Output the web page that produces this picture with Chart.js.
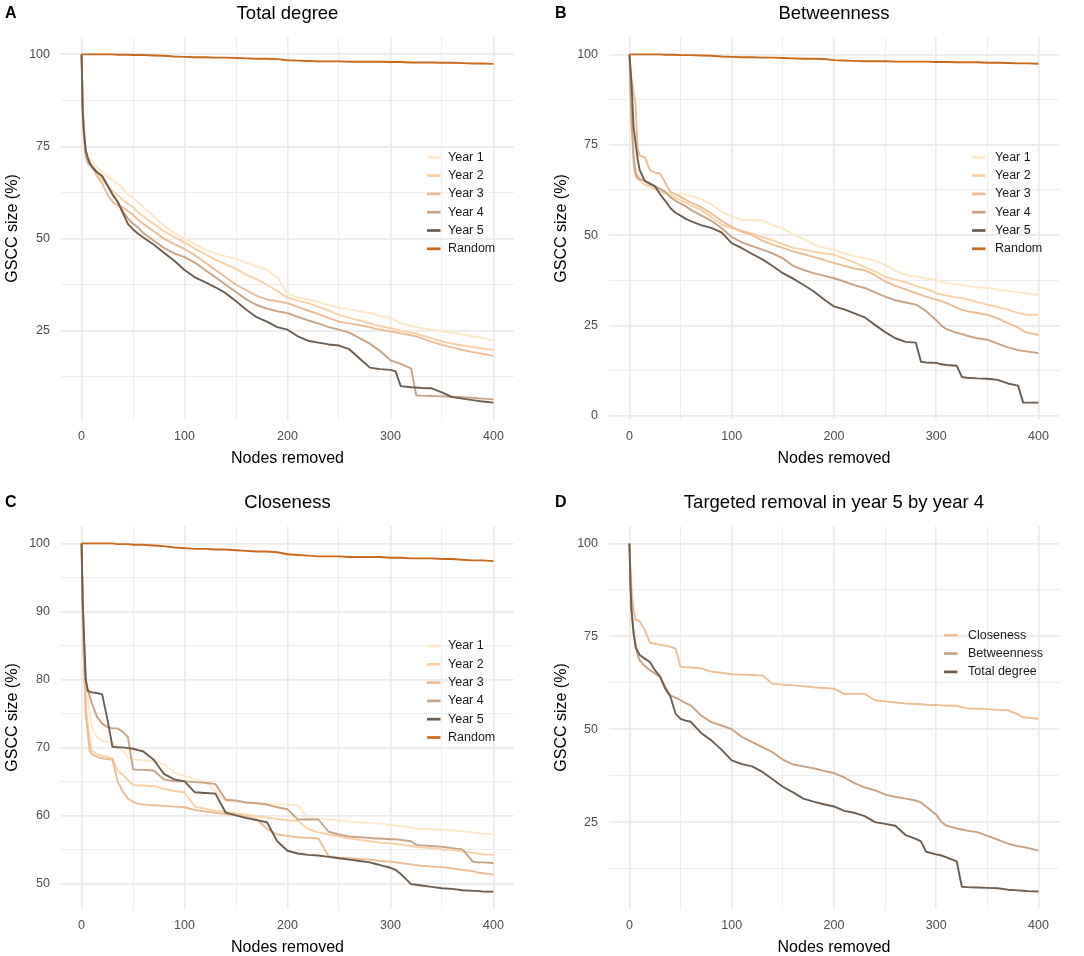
<!DOCTYPE html>
<html>
<head>
<meta charset="utf-8">
<title>GSCC size under node removal</title>
<script src="https://cdn.jsdelivr.net/npm/chart.js@4.4.1/dist/chart.umd.min.js"></script>
<style>
    html, body { margin: 0; padding: 0; background: #fff; overflow: hidden; }
    .panel { position: absolute; width: 542px; height: 467px; }
</style>
</head>
<body>
<canvas id="panelA" class="panel" style="left:0;top:0" width="542" height="467"></canvas>
<canvas id="panelB" class="panel" style="left:542px;top:0" width="542" height="467"></canvas>
<canvas id="panelC" class="panel" style="left:0;top:489px" width="542" height="467"></canvas>
<canvas id="panelD" class="panel" style="left:542px;top:489px" width="542" height="467"></canvas>
<script>
// x positions (nodes removed) shared by every series
const nodesRemoved = [0, 1, 2, 4, 6, 8, 10,
    15, 20, 25, 30, 35, 40, 45, 50, 55, 60,
    70, 80, 90, 100, 110, 120, 130, 140, 150, 160, 170,
    180, 190, 200, 210, 220, 230, 240, 250, 260, 270, 280,
    285, 290, 300, 305, 310, 320, 325, 330,
    340, 350, 360, 370, 380, 385, 390, 400];

const xMajorTicks = [0, 100, 200, 300, 400];
const xMinorTicks = [50, 150, 250, 350];
const yTicksQuarter = [25, 50, 75, 100];
const yTicksQuarterZero = [0, 25, 50, 75, 100];
const yMinorQuarter = [12.5, 37.5, 62.5, 87.5];
const yTicksCloseness = [50, 60, 70, 80, 90, 100];
const yMinorCloseness = [55, 65, 75, 85, 95];

const yearLabels = ['Year 1', 'Year 2', 'Year 3', 'Year 4', 'Year 5', 'Random'];
const strategyLabels = ['Closeness', 'Betweenness', 'Total degree'];

// Random removal (panels A-C)
const randomRemoval = [100, 100, 100, 100, 100, 100, 100,
    100, 100, 100, 100, 99.9, 99.9, 99.9, 99.8, 99.8, 99.8,
    99.7, 99.6, 99.4, 99.3, 99.2, 99.2, 99.1, 99.1, 99, 98.9, 98.8,
    98.8, 98.7, 98.4, 98.3, 98.2, 98.1, 98.1, 98.1, 98, 98, 98,
    98, 98, 97.9, 97.9, 97.9, 97.8, 97.8, 97.8,
    97.8, 97.7, 97.7, 97.6, 97.5, 97.5, 97.5, 97.4];

// A - Total degree
const degreeYear1 = [100, 88, 80, 74, 72, 71.5, 71,
    69.5, 68, 67, 66, 65, 63.5, 62, 61, 59.8, 58.5,
    56, 53.5, 51.5, 50, 48.5, 47, 46, 45.2, 44.5, 43.5, 42.5,
    41.5, 39.5, 35, 34, 33.5, 32.8, 32, 31.3, 30.8, 30.3, 29.8,
    29.4, 29, 28.4, 27.8, 27, 26.3, 26, 25.7,
    25.3, 24.8, 24.5, 24, 23.5, 23.3, 23, 22.4];
const degreeYear2 = [100, 87, 80, 73, 71, 70.5, 70,
    68, 66, 64.5, 63, 61.8, 60.5, 59.5, 58.5, 57.2, 56,
    54, 52, 50.5, 49, 47.3, 45.8, 44.3, 43, 41.8, 40.2, 39,
    37.5, 35.8, 34, 33.2, 32.5, 31.5, 30.5, 29.3, 28.5, 27.8, 27,
    26.6, 26.3, 25.7, 25.4, 25, 24.5, 24.2, 23.8,
    23, 22.1, 21.5, 21, 20.6, 20.4, 20.2, 19.8];
const degreeYear3 = [100, 86, 79, 72, 70.5, 70, 69.5,
    67, 65, 62, 60, 59, 58.5, 57.5, 56.5, 55, 54,
    52, 50, 48.5, 47.2, 45.5, 43.5, 41.5, 39.5, 37.5, 36, 34.5,
    33.5, 33, 32.5, 31.5, 30.5, 29.5, 28.5, 27.5, 27, 26.5, 26,
    25.6, 25.3, 24.8, 24.6, 24.3, 23.8, 23.5, 23,
    22, 21.2, 20.5, 19.8, 19.2, 19, 18.7, 18.2];
const degreeYear4 = [100, 86, 79, 73, 71, 70, 69.5,
    68, 67, 64.5, 62, 60, 57.5, 55.5, 54, 53, 51.5,
    49.5, 47.5, 46, 45, 43.5, 41.5, 39.5, 37.5, 35.5, 33.5, 32,
    31, 30.3, 29.8, 28.8, 27.8, 27, 26, 25.3, 24.5, 23, 21.5,
    20.5, 19.5, 17, 16.5, 16, 14.8, 7.5, 7.4,
    7.3, 7.2, 7.1, 7, 6.8, 6.7, 6.6, 6.4];
const degreeYear5 = [100, 85, 80, 74, 72, 70.5, 69.5,
    68, 67, 64.5, 62, 60, 57, 54, 52.5, 51.3, 50.3,
    48.4, 46.2, 44, 41.5, 39.5, 38.2, 36.8, 35.2, 33, 30.7, 28.7,
    27.5, 26, 25.3, 23.5, 22.3, 21.8, 21.3, 21, 20, 17.5, 15,
    14.8, 14.6, 14.4, 14, 10, 9.7, 9.6, 9.5,
    9.4, 8.3, 7, 6.6, 6.2, 6, 5.8, 5.5];

// B - Betweenness
const betweenYear1 = [100, 90, 82, 72, 68, 67, 66.5,
    65, 63.5, 62.5, 62, 61.8, 61.6, 61.5, 61.4, 61.2, 60.8,
    60, 58.5, 56.5, 55.1, 54.3, 54.2, 54, 52.8, 51.8, 50.3, 49,
    47.5, 46.5, 46, 45, 44.2, 43.6, 43, 41.8, 40.3, 39, 38.6,
    38.3, 38, 37.7, 37.2, 36.8, 36.4, 36.3, 36,
    35.6, 35.4, 35, 34.6, 34.2, 34, 33.8, 33.5];
const betweenYear2 = [100, 88, 80, 70, 66, 65.5, 65,
    64, 63.4, 62.8, 62.2, 61.6, 61, 60.3, 59.7, 59, 58.2,
    57, 55, 53, 51.9, 51.2, 50.5, 49.5, 48.6, 47.5, 46.5, 46,
    45.5, 45, 44.6, 43.5, 42.5, 41.2, 40, 38.5, 37.7, 37, 36,
    35.5, 35.2, 34, 33.6, 33.3, 32.8, 32.6, 32.3,
    31.5, 30.8, 30.2, 29.4, 28.5, 28.2, 28, 28];
const betweenYear3 = [100, 96, 93, 90, 86, 74, 72,
    71.5, 68, 67.3, 67, 64.5, 62, 61.2, 60.6, 59.8, 59,
    57.8, 56, 54, 52.3, 51, 50, 48.5, 47.4, 46.5, 45.5, 44.8,
    44, 43.2, 42.3, 41.5, 40.8, 40.3, 39, 37.2, 36, 35, 34,
    33.5, 33, 32.2, 31.8, 31.2, 30, 29.4, 29,
    28.5, 28, 27, 25.7, 24.5, 23.5, 23, 22.4];
const betweenYear4 = [100, 90, 82, 72, 67, 66, 65.5,
    65, 64.4, 63.5, 62.8, 62, 60.5, 59.5, 58.8, 58, 57,
    55.5, 54, 52, 49.5, 48, 47, 46, 45, 43.6, 41.5, 40.4,
    39.5, 38.8, 38.1, 37.2, 36.2, 35.4, 34.2, 33, 32, 31.4, 30.8,
    30, 29, 26.5, 25, 24, 23, 22.7, 22.2,
    21.5, 21.1, 20, 19, 18.2, 18, 17.8, 17.4];
const betweenYear5 = [100, 96, 92, 80, 75.5, 71, 68,
    65, 64.2, 63.5, 61.3, 59.5, 57.5, 56.2, 55.4, 54.5, 53.9,
    52.8, 52, 50.8, 47.8, 46.4, 44.8, 43.3, 41.5, 39.5, 38, 36.3,
    34.5, 32.3, 30.3, 29.5, 28.4, 27.3, 25.2, 23.2, 21.5, 20.5, 20.3,
    15, 14.8, 14.7, 14.3, 14.1, 13.9, 10.8, 10.6,
    10.4, 10.3, 10, 9, 8.4, 3.7, 3.7, 3.7];

// C - Closeness
const closeYear1 = [100, 92, 87, 80, 77, 75, 73,
    71.5, 71, 70.8, 70.6, 70.2, 69.5, 68.5, 68.2, 68.2, 68.1,
    68, 67.5, 66.3, 65.8, 65.3, 65, 63.5, 62.2, 62, 61.9, 61.8,
    61.7, 61.6, 61.6, 61.5, 59.6, 59.5, 59.4, 59.3, 59.1, 59, 58.9,
    58.8, 58.8, 58.6, 58.5, 58.4, 58.2, 58.1, 58,
    58, 57.9, 57.8, 57.7, 57.5, 57.4, 57.3, 57.2];
const closeYear2 = [100, 90, 84, 76, 73.5, 71, 69.5,
    69, 68.8, 68.6, 68.4, 66.5, 66, 65.2, 64.5, 64.4, 64.4,
    64.3, 63.9, 63.6, 63.4, 61.3, 61, 60.7, 60.5, 60.3, 60.1, 59.9,
    59.7, 59.5, 59.3, 59.2, 58, 57.5, 57.2, 56.9, 56.6, 56.4, 56.2,
    56.1, 56, 55.9, 55.8, 55.7, 55.5, 55.4, 55.3,
    55.2, 55, 54.9, 54.7, 54.5, 54.4, 54.3, 54.2];
const closeYear3 = [100, 90, 84, 75, 72, 69.5, 69,
    68.6, 68.4, 68.3, 68.2, 65, 63.5, 62.5, 62, 61.7, 61.6,
    61.5, 61.4, 61.3, 61.2, 60.8, 60.6, 60.4, 60.2, 60, 59.8, 59.5,
    58, 57.2, 57, 56.8, 56.7, 56.6, 54, 53.8, 53.7, 53.6, 53.5,
    53.4, 53.3, 53.2, 53.1, 53, 52.8, 52.7, 52.6,
    52.5, 52.4, 52.2, 52, 51.8, 51.6, 51.5, 51.3];
const closeYear4 = [100, 92, 87, 80, 78.5, 77.5, 76.5,
    74.5, 73.5, 73, 72.8, 72.8, 72.3, 71.5, 66.8, 66.7, 66.7,
    66.6, 65.3, 65, 65, 64.9, 64.8, 64.6, 62.3, 62.2, 61.9, 61.8,
    61.6, 61.2, 60.9, 59.4, 59.4, 59.4, 57.6, 57.2, 56.9, 56.8, 56.7,
    56.6, 56.6, 56.5, 56.5, 56.4, 56.2, 55.7, 55.6,
    55.5, 55.4, 55.2, 55, 53.2, 53.1, 53.1, 53];
const closeYear5 = [100, 92, 87.7, 80, 78.3, 78.2, 78.1,
    78, 77.8, 74.2, 70.1, 70, 70, 69.9, 69.8, 69.6, 69.4,
    68.2, 66.1, 65.3, 65, 63.4, 63.3, 63.2, 60.4, 60, 59.6, 59.3,
    59, 56.2, 54.8, 54.4, 54.2, 54.1, 53.9, 53.7, 53.5, 53.3, 53.1,
    52.9, 52.7, 52.3, 52, 51.4, 49.9, 49.8, 49.7,
    49.5, 49.3, 49.2, 49, 48.9, 48.9, 48.8, 48.8];

// D - Targeted removal in year 5 by year 4
const targetCloseness = [100, 93, 88, 82, 79.4, 79.4, 79,
    76.7, 73.3, 73, 72.7, 72.5, 72.2, 71.7, 66.8, 66.7, 66.6,
    66.4, 65.5, 65.2, 64.8, 64.7, 64.6, 64.5, 62.2, 62, 61.8, 61.6,
    61.3, 61.1, 60.9, 59.5, 59.5, 59.5, 57.8, 57.5, 57.2, 56.9, 56.8,
    56.7, 56.6, 56.5, 56.4, 56.4, 56.3, 55.9, 55.6,
    55.5, 55.4, 55.2, 55.1, 54, 53.2, 53.1, 52.8];
const targetBetweenness = [100, 90, 82, 76, 73, 70, 68.5,
    67, 65.9, 65, 64.1, 61.4, 59.1, 58.5, 57.8, 57, 56.4,
    53.7, 51.9, 51, 50, 47.9, 46.5, 45.2, 43.8, 41.8, 40.5, 40,
    39.5, 38.8, 38.2, 37, 35.5, 34.3, 33.6, 32.4, 31.8, 31.3, 30.8,
    30.3, 29.2, 27, 25, 24, 23.3, 23, 22.7,
    22.3, 21.3, 20.3, 19.2, 18.5, 18.3, 18, 17.3];
const targetDegree = [100, 88, 82, 76, 72, 71, 70,
    69, 68.1, 65.9, 64.1, 60.9, 58.8, 54.2, 52.8, 52.3, 52,
    49, 47, 44.5, 41.6, 40.6, 40, 38.5, 36.5, 34.5, 33, 31.3,
    30.5, 29.8, 29.2, 28, 27.5, 26.6, 25, 24.5, 24, 21.5, 20.5,
    19.8, 17, 16.3, 16, 15.5, 14.4, 7.6, 7.5,
    7.4, 7.3, 7.2, 6.8, 6.6, 6.5, 6.4, 6.3];

const yearColors = ['#FDE8C9', '#F8D1A7', '#EBBC95', '#C7A487', '#6D5D4F', '#C8691C'];
const strategyColors = ['#EDBE94', '#C7A386', '#6D5D4F'];

const FONT_FAMILY = '"Liberation Sans", Arial, sans-serif';

// Panel letter + centred title
const panelHeading = {
    id: 'panelHeading',
    afterDraw(chart, args, opts) {
        const { ctx, chartArea } = chart;
        ctx.save();
        ctx.fillStyle = '#000';
        ctx.textBaseline = 'middle';
        ctx.textAlign = 'left';
        ctx.font = 'bold 16px ' + FONT_FAMILY;
        ctx.fillText(opts.letter, opts.letterX, 14);
        ctx.textAlign = 'center';
        ctx.font = '18.5px ' + FONT_FAMILY;
        ctx.fillText(opts.title, (chartArea.left + chartArea.right) / 2, 14);
        ctx.restore();
    }
};

// ggplot-like legend drawn inside the plot panel
const insideLegend = {
    id: 'insideLegend',
    afterDraw(chart, args, opts) {
        const { ctx } = chart;
        ctx.save();
        ctx.font = '12.5px ' + FONT_FAMILY;
        ctx.textBaseline = 'middle';
        ctx.textAlign = 'left';
        chart.data.datasets.forEach((ds, i) => {
            const y = opts.top + i * 18.3;
            ctx.strokeStyle = ds.borderColor;
            ctx.lineWidth = 2.7;
            ctx.beginPath();
            ctx.moveTo(opts.left, y);
            ctx.lineTo(opts.left + 13.5, y);
            ctx.stroke();
            ctx.fillStyle = '#1a1a1a';
            ctx.fillText(ds.label, opts.textLeft, y);
        });
        ctx.restore();
    }
};

function makeTicks(major, minor) {
    return major.map(v => ({ value: v }))
        .concat(minor.map(v => ({ value: v, minor: true })))
        .sort((a, b) => a.value - b.value);
}

function buildPanel(canvasId, panel) {
    const gridWidth = c => (c.tick && c.tick.minor ? 0.9 : 1.7);
    const tickFont = { family: FONT_FAMILY, size: 12.5 };
    const axisTitleFont = { family: FONT_FAMILY, size: 16, lineHeight: 1 };

    const datasets = panel.series.map((values, i) => {
        if (values.length !== nodesRemoved.length) {
            throw new Error(canvasId + ' series ' + i + ' has ' + values.length + ' values');
        }
        return {
            label: panel.labels[i],
            data: nodesRemoved.map((x, k) => ({ x: x, y: values[k] })),
            borderColor: panel.colors[i],
            borderWidth: 1.9,
            borderJoinStyle: 'round',
            pointRadius: 0,
            tension: 0,
            fill: false,
            order: panel.series.length - i
        };
    });

    return new Chart(document.getElementById(canvasId), {
        type: 'line',
        data: { datasets: datasets },
        plugins: [panelHeading, insideLegend],
        options: {
            responsive: false,
            animation: false,
            events: [],
            layout: { padding: { top: 37, right: panel.rightPad, bottom: 0, left: 0 } },
            plugins: {
                legend: { display: false },
                tooltip: { enabled: false },
                panelHeading: { letter: panel.letter, letterX: panel.letterX, title: panel.title },
                insideLegend: panel.legend
            },
            scales: {
                x: {
                    type: 'linear',
                    min: -20,
                    max: 420,
                    afterBuildTicks: axis => { axis.ticks = makeTicks(xMajorTicks, xMinorTicks); },
                    afterFit: axis => { axis.height = 47; },
                    border: { display: false },
                    grid: { color: '#EBEBEB', lineWidth: gridWidth, drawTicks: false },
                    ticks: {
                        autoSkip: false,
                        maxRotation: 0,
                        padding: 9,
                        color: '#4D4D4D',
                        font: tickFont,
                        callback: v => (xMajorTicks.includes(v) ? String(v) : '')
                    },
                    title: { display: true, text: 'Nodes removed', color: '#000', font: axisTitleFont, padding: 0 }
                },
                y: {
                    type: 'linear',
                    min: panel.yMin,
                    max: panel.yMax,
                    afterBuildTicks: axis => { axis.ticks = makeTicks(panel.yMajor, panel.yMinor); },
                    afterFit: axis => { axis.width = panel.yWidth; },
                    border: { display: false },
                    grid: { color: '#EBEBEB', lineWidth: gridWidth, drawTicks: false },
                    ticks: {
                        autoSkip: false,
                        padding: 11,
                        color: '#4D4D4D',
                        font: tickFont,
                        callback: v => (panel.yMajor.includes(v) ? String(v) : '')
                    },
                    title: {
                        display: true,
                        text: 'GSCC size (%)',
                        color: '#000',
                        font: axisTitleFont,
                        padding: { top: panel.yTitlePad, bottom: 0 }
                    }
                }
            }
        }
    });
}

document.addEventListener('DOMContentLoaded', () => {
    buildPanel('panelA', {
        letter: 'A', letterX: 5, title: 'Total degree',
        series: [degreeYear1, degreeYear2, degreeYear3, degreeYear4, degreeYear5, randomRemoval],
        labels: yearLabels, colors: yearColors,
        yMin: 0.8, yMax: 104.7, yMajor: yTicksQuarter, yMinor: yMinorQuarter,
        yWidth: 61, yTitlePad: 5, rightPad: 28,
        legend: { left: 427, textLeft: 448, top: 157.3 }
    });

    buildPanel('panelB', {
        letter: 'B', letterX: 13, title: 'Betweenness',
        series: [betweenYear1, betweenYear2, betweenYear3, betweenYear4, betweenYear5, randomRemoval],
        labels: yearLabels, colors: yearColors,
        yMin: -1.1, yMax: 104.8, yMajor: yTicksQuarterZero, yMinor: yMinorQuarter,
        yWidth: 67, yTitlePad: 11.5, rightPad: 25,
        legend: { left: 430, textLeft: 453, top: 157.3 }
    });

    buildPanel('panelC', {
        letter: 'C', letterX: 5, title: 'Closeness',
        series: [closeYear1, closeYear2, closeYear3, closeYear4, closeYear5, randomRemoval],
        labels: yearLabels, colors: yearColors,
        yMin: 46.24, yMax: 102.56, yMajor: yTicksCloseness, yMinor: yMinorCloseness,
        yWidth: 61, yTitlePad: 5, rightPad: 28,
        legend: { left: 427, textLeft: 448, top: 157 }
    });

    buildPanel('panelD', {
        letter: 'D', letterX: 13, title: 'Targeted removal in year 5 by year 4',
        series: [targetCloseness, targetBetweenness, targetDegree],
        labels: strategyLabels, colors: strategyColors,
        yMin: 1.6, yMax: 104.7, yMajor: yTicksQuarter, yMinor: yMinorQuarter,
        yWidth: 67, yTitlePad: 11.5, rightPad: 25,
        legend: { left: 402, textLeft: 426, top: 146.3 }
    });
});
</script>
</body>
</html>
